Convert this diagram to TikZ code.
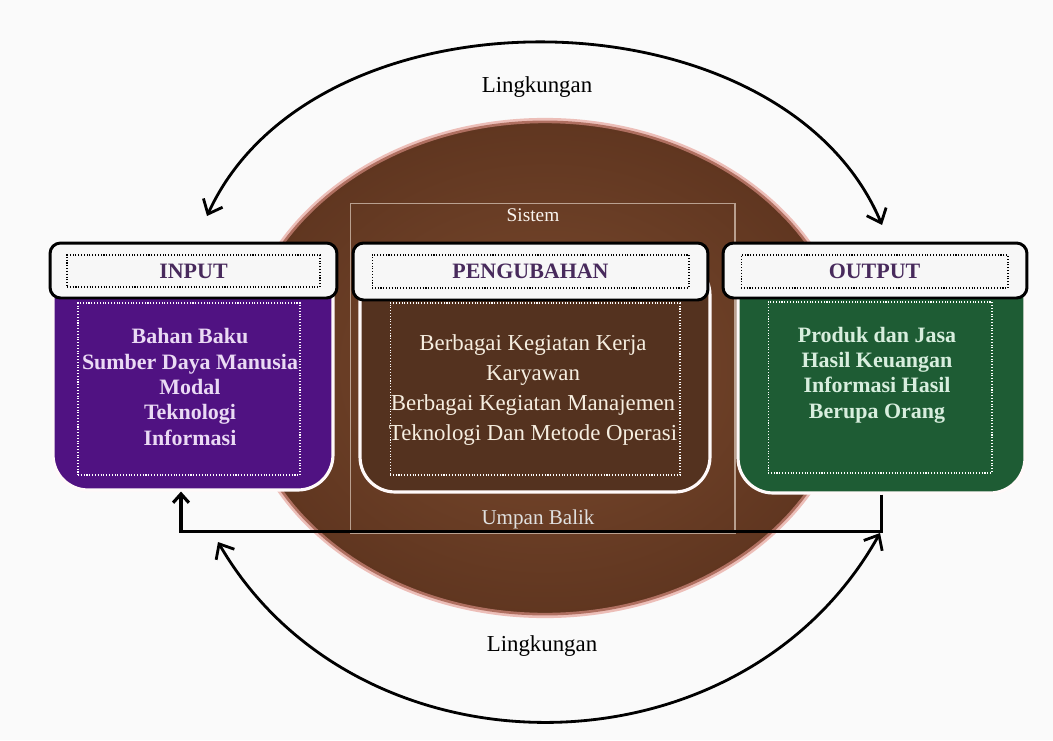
\documentclass[tikz,border=0pt]{standalone}
\usepackage{fontspec}
\setmainfont{Liberation Serif}
\usepackage{xcolor}
\usepackage{tikz}
\usetikzlibrary{shapes,calc,positioning,arrows.meta}

\definecolor{bg}{RGB}{250,250,250}
\definecolor{discin}{RGB}{122,74,46}
\definecolor{discout}{RGB}{96,54,32}
\definecolor{glow}{RGB}{228,150,140}
\definecolor{violet}{RGB}{80,18,130}
\definecolor{wood}{RGB}{84,50,31}
\definecolor{leaf}{RGB}{30,92,52}
\definecolor{headtxt}{RGB}{72,42,92}
\definecolor{lav}{RGB}{234,218,244}
\definecolor{cream}{RGB}{246,238,224}
\definecolor{mint}{RGB}{216,238,222}

\begin{document}
\begin{tikzpicture}[x=0.02cm,y=-0.02cm]
  \tikzset{ headbox/.style={draw=black,fill=white!97!black,line width=1.7pt,rounded corners=6pt,inner sep=0pt},
    dotbox/.style={draw=black,densely dotted,line width=0.6pt,inner sep=0pt,
      font=\fontsize{12.5}{14}\selectfont\bfseries,text=headtxt},
    bodybox/.style={draw=white!90!pink,line width=1.8pt,rounded corners=0.7cm,inner sep=0pt},
    innerbox/.style={draw=white,densely dotted,line width=0.6pt,inner sep=0pt},
    env/.style={line width=1.6pt,{Straight Barb[length=7pt,width=12pt]}-{Straight Barb[length=7pt,width=12pt]}},
    fb/.style={line width=1.8pt,-{Straight Barb[length=5pt,width=9pt]}},
    plain/.style={font=\fontsize{13}{15}\selectfont},
  }
  \useasboundingbox[fill=bg] (0,0) rectangle (1053,740);

  % the system disc
  \shade[inner color=discin,outer color=discout] (545,368) ellipse [x radius=6.1cm,y radius=4.95cm];
  \draw[glow,line width=3pt,opacity=.6] (545,368) ellipse [x radius=6.1cm,y radius=4.95cm];
  \node[draw=white!80!brown,opacity=.6,line width=0.6pt,minimum width=7.7cm,minimum height=6.6cm] (sis) at (542.5,368) {};
  \node[font=\fontsize{11}{13}\selectfont,text=white!92!brown] (sistxt) at (533,215) {Sistem};

  % bodies
  \node[bodybox,fill=violet,minimum width=5.6cm,minimum height=4.6cm] (inbody) at (193,375) {};
  \node[bodybox,fill=wood,minimum width=7cm,minimum height=4.64cm] (midbody) at (535,376) {};
  \node[bodybox,fill=leaf,minimum width=5.74cm,minimum height=4.66cm] (outbody) at (881.5,376.5) {};
  \node[innerbox,minimum width=4.44cm,minimum height=3.44cm] (inframe) at (189,389) {};
  \node[innerbox,minimum width=5.8cm,minimum height=3.44cm] (midframe) at (535,389) {};
  \node[innerbox,minimum width=4.48cm,minimum height=3.42cm] (outframe) at (880,387.5) {};

  \node[align=center,text=lav,font=\fontsize{12.5}{14.5}\selectfont\bfseries] (intext) at (190,387)
    {Bahan Baku\\Sumber Daya Manusia\\Modal\\Teknologi\\Informasi};
  \node[align=center,text=cream,font=\fontsize{13}{17}\selectfont] (midtext) at (533,390)
    {Berbagai Kegiatan Kerja\\Karyawan\\Berbagai Kegiatan Manajemen\\Teknologi Dan Metode Operasi};
  \node[align=center,text=mint,font=\fontsize{12.5}{14.4}\selectfont\bfseries] (outtext) at (877,375)
    {Produk dan Jasa\\Hasil Keuangan\\Informasi Hasil\\Berupa Orang};

  % headers
  \node[headbox,minimum width=5.74cm,minimum height=1.1cm] (inhead) at (193.5,270.5) {};
  \node[headbox,minimum width=7.1cm,minimum height=1.14cm] (midhead) at (530.5,271.5) {};
  \node[headbox,minimum width=6.08cm,minimum height=1.1cm] (outhead) at (875,270.5) {};
  \node[dotbox,minimum width=5.06cm,minimum height=0.64cm] (inlab) at (193.5,271) {INPUT};
  \node[dotbox,minimum width=6.34cm,minimum height=0.66cm] (midlab) at (530.5,271.5) {PENGUBAHAN};
  \node[dotbox,minimum width=5.34cm,minimum height=0.66cm] (outlab) at (874.5,271.5) {OUTPUT};

  % feedback
  \draw[fb] (outbody.south) -- ++(0,37) -| ($(inbody.south)+(-12,0)$);
  \node[font=\fontsize{12}{14}\selectfont,text=white!88!black] (umpan) at (538,519) {Umpan Balik};

  % environment
  \coordinate (tl) at (207,216);
  \coordinate (tr) at (882,225);
  \coordinate (bl) at (218,542);
  \coordinate (br) at (880,533);
  \draw[env] (tl) .. controls (315,-20) and (782,-13) .. (tr);
  \draw[env] (bl) .. controls (358,783) and (740,783) .. (br);
  \node[plain] (envtop) at (537,87) {Lingkungan};
  \node[plain] (envbot) at (542,646) {Lingkungan};
\end{tikzpicture}
\end{document}
